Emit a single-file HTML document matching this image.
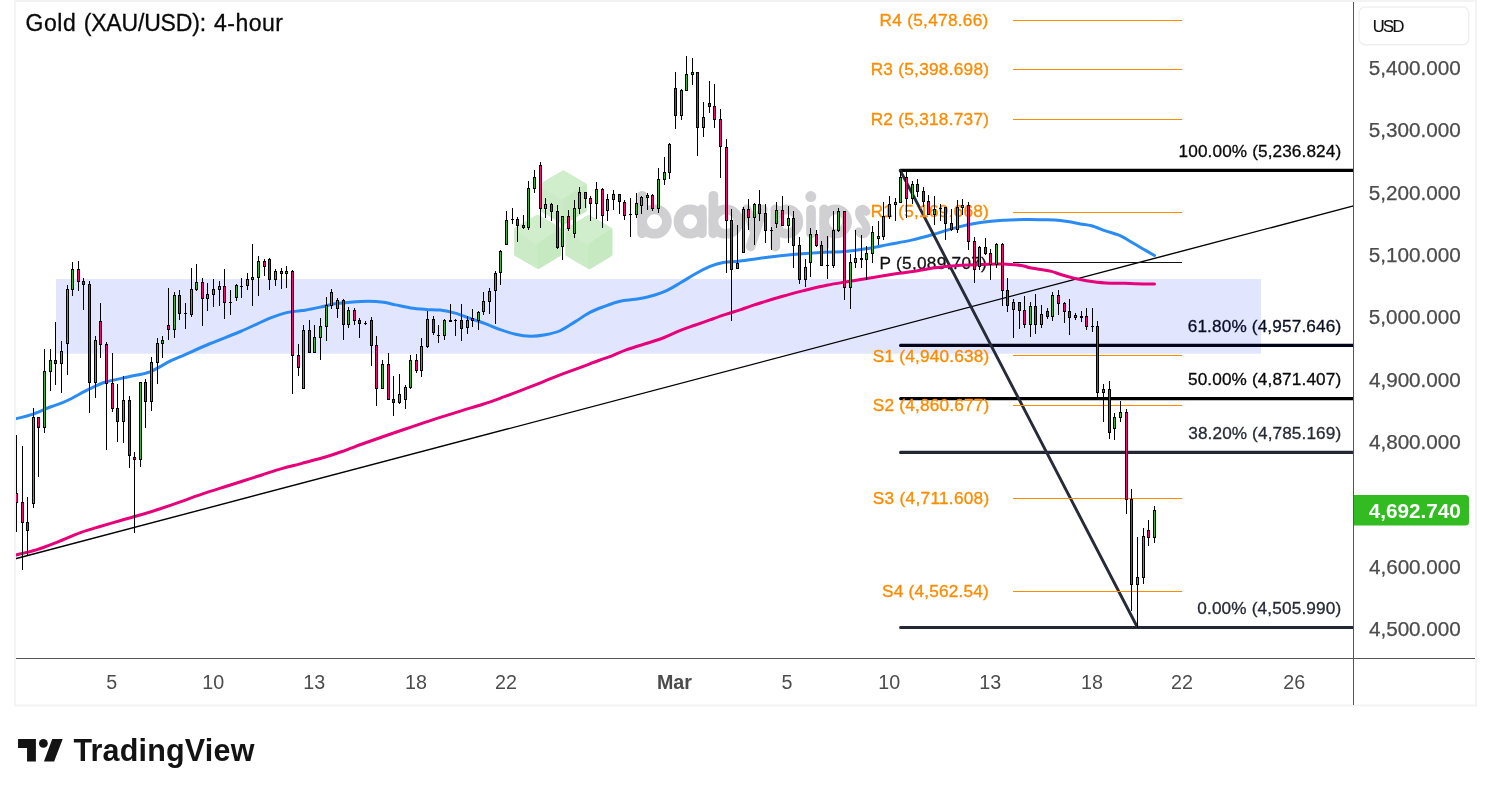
<!DOCTYPE html>
<html><head><meta charset="utf-8"><title>Gold (XAU/USD): 4-hour</title>
<style>
html,body{margin:0;padding:0;background:#fff;}
body{width:1491px;height:796px;overflow:hidden;position:relative;font-family:"Liberation Sans",sans-serif;}
</style></head><body>
<svg width="1491" height="796" viewBox="0 0 1491 796" style="position:absolute;left:0;top:0;will-change:transform">
<rect x="0" y="0" width="1491" height="796" fill="#ffffff"/>
<rect x="56" y="279" width="1205" height="74.7" fill="#e1e6fe"/>
<polygon points="563.3,172.1 585.2,184.8 585.2,210.1 563.3,222.7 541.4,210.1 541.4,184.8" fill="#cbebc6" stroke="#cbebc6" stroke-width="3.2" stroke-linejoin="round"/>
<polygon points="563.3,172.1 585.2,184.8 563.3,198.9 541.4,184.8" fill="#d1eecc" stroke="#d1eecc" stroke-width="3.2" stroke-linejoin="round"/>
<polygon points="564.5,200.0 585.2,186.3 585.2,210.1 564.5,222.7" fill="#c7e9c2" stroke="#c7e9c2" stroke-width="3.2" stroke-linejoin="round"/>
<polygon points="537.6,216.5 559.5,229.2 559.5,254.5 537.6,267.1 515.7,254.5 515.7,229.2" fill="#cbebc6" stroke="#cbebc6" stroke-width="3.2" stroke-linejoin="round"/>
<polygon points="537.6,216.5 559.5,229.2 537.6,243.3 515.7,229.2" fill="#d1eecc" stroke="#d1eecc" stroke-width="3.2" stroke-linejoin="round"/>
<polygon points="538.8,244.4 559.5,230.8 559.5,254.5 538.8,267.1" fill="#c7e9c2" stroke="#c7e9c2" stroke-width="3.2" stroke-linejoin="round"/>
<polygon points="588.8,216.7 610.7,229.3 610.7,254.7 588.8,267.3 566.9,254.7 566.9,229.3" fill="#cbebc6" stroke="#cbebc6" stroke-width="3.2" stroke-linejoin="round"/>
<polygon points="588.8,216.7 610.7,229.3 588.8,243.5 566.9,229.3" fill="#d1eecc" stroke="#d1eecc" stroke-width="3.2" stroke-linejoin="round"/>
<polygon points="590.0,244.6 610.7,230.9 610.7,254.7 590.0,267.3" fill="#c7e9c2" stroke="#c7e9c2" stroke-width="3.2" stroke-linejoin="round"/>
<g fill="none" stroke="#d0d0d2" stroke-width="9.7" stroke-linecap="round" stroke-linejoin="round">
<line x1="642.15" y1="195.8" x2="642.15" y2="233.4"/>
<ellipse cx="654.55" cy="221.55" rx="12.40" ry="12.2"/>
<ellipse cx="690.15" cy="221.55" rx="11.70" ry="12.2"/>
<line x1="701.85" y1="209.4" x2="701.85" y2="233.4"/>
<line x1="713.35" y1="195.8" x2="713.35" y2="233.4"/>
<ellipse cx="725.90" cy="221.55" rx="12.55" ry="12.2"/>
<path d="M746.6,209.4 L755.0,232.5 M762.8,209.4 L750.6,246.4"/>
<line x1="775.35" y1="209.4" x2="775.35" y2="246.6"/>
<ellipse cx="786.85" cy="221.55" rx="11.50" ry="12.2"/>
<line x1="811" y1="209.9" x2="811" y2="233.4"/>
<line x1="824.15" y1="209.4" x2="824.15" y2="246.6"/>
<ellipse cx="835.60" cy="221.55" rx="11.45" ry="12.2"/>
</g>
<circle cx="810.8" cy="196.6" r="5.5" fill="#d0d0d2"/>
<path d="M866.2,211.6 C863.5,207.4 858.6,208.4 859.2,213.8 C859.9,220 866.6,221.8 866.4,228.8 C866.2,235.4 860.6,235.6 858.9,231.4" fill="none" stroke="#d0d0d2" stroke-width="8.2" stroke-linecap="round"/>
<path d="M14.5,419.1 C17.6,418.3 27.2,416.1 33.2,414.1 C39.2,412.1 44.8,409.2 50.3,407.0 C55.8,404.8 59.9,404.0 66.4,401.0 C72.9,398.0 82.8,392.1 89.5,388.9 C96.2,385.7 100.0,383.8 106.6,381.8 C113.1,379.8 121.6,378.5 128.8,376.8 C136.0,375.1 142.9,374.5 149.9,371.8 C156.9,369.1 165.2,363.5 171.0,360.7 C176.8,357.9 178.1,357.7 184.7,354.8 C191.2,351.9 201.0,347.4 210.3,343.5 C219.6,339.6 230.4,335.8 240.5,331.5 C250.6,327.2 262.9,321.0 270.6,317.9 C278.3,314.8 281.6,313.8 286.5,312.6 C291.4,311.4 296.9,311.2 300.0,310.8 C303.1,310.4 301.7,310.8 305.1,310.2 C308.5,309.6 315.2,308.2 320.2,307.1 C325.2,306.0 330.2,304.6 335.2,303.8 C340.2,303.0 344.8,302.6 350.3,302.2 C355.8,301.8 362.9,301.3 368.4,301.3 C373.9,301.3 379.0,301.7 383.5,302.3 C388.0,302.9 391.0,304.0 395.5,304.9 C400.0,305.8 405.6,307.1 410.6,307.9 C415.6,308.6 420.8,309.0 425.7,309.4 C430.6,309.8 435.1,309.5 440.0,310.1 C444.9,310.7 450.1,311.7 455.1,313.1 C460.1,314.5 465.2,316.6 470.2,318.4 C475.2,320.2 480.2,321.8 485.2,323.7 C490.2,325.6 495.3,327.9 500.3,329.7 C505.3,331.4 510.4,333.1 515.4,334.2 C520.4,335.3 525.5,336.1 530.5,336.2 C535.5,336.3 540.5,335.6 545.5,334.7 C550.5,333.8 555.6,332.7 560.6,330.5 C565.6,328.3 570.8,324.4 575.7,321.4 C580.6,318.4 585.1,314.9 590.0,312.4 C594.9,309.8 600.1,308.0 605.1,306.1 C610.1,304.2 615.2,302.3 620.2,301.2 C625.2,300.1 630.2,300.1 635.2,299.3 C640.2,298.5 645.3,297.7 650.3,296.3 C655.3,294.9 660.4,293.4 665.4,291.1 C670.4,288.9 675.5,285.7 680.5,282.8 C685.5,279.9 690.5,276.5 695.5,273.7 C700.5,270.9 706.3,268.0 710.6,266.2 C714.9,264.4 716.3,263.8 721.2,262.9 C726.1,262.0 732.6,261.9 740.0,261.0 C747.4,260.1 757.0,258.5 765.4,257.5 C773.8,256.5 781.1,255.6 790.2,254.8 C799.4,254.0 811.3,253.2 820.3,252.6 C829.3,252.0 836.9,252.1 844.4,251.5 C851.9,250.9 858.2,250.0 865.5,248.8 C872.8,247.7 880.2,246.1 888.1,244.6 C896.0,243.1 904.8,241.7 912.6,239.9 C920.5,238.1 927.7,236.0 935.2,233.9 C942.7,231.8 950.2,229.0 957.8,227.1 C965.3,225.2 973.0,223.7 980.5,222.6 C988.0,221.5 995.6,220.8 1003.1,220.3 C1010.6,219.8 1019.1,219.7 1025.7,219.6 C1032.3,219.5 1037.7,219.7 1042.6,219.8 C1047.5,219.9 1050.9,219.8 1055.1,220.1 C1059.3,220.4 1063.5,221.0 1067.7,221.6 C1071.9,222.2 1076.3,223.2 1080.3,223.9 C1084.3,224.6 1087.4,224.7 1091.6,225.8 C1095.8,227.0 1100.6,229.1 1105.4,230.8 C1110.2,232.5 1116.3,234.0 1120.5,235.8 C1124.7,237.6 1126.7,239.3 1130.5,241.5 C1134.3,243.7 1139.1,246.7 1143.1,249.0 C1147.1,251.3 1152.6,254.4 1154.5,255.5" fill="none" stroke="#2a8cf2" stroke-width="3" stroke-linecap="round" stroke-linejoin="round"/>
<line x1="14.5" y1="559" x2="1353.5" y2="205.9" stroke="#000" stroke-width="1.4"/>
<line x1="900.6" y1="170.4" x2="1353" y2="170.4" stroke="#000000" stroke-width="3.1"/><circle cx="900.6" cy="170.4" r="1.55" fill="#000000"/>
<line x1="900.6" y1="345.4" x2="1353" y2="345.4" stroke="#03061a" stroke-width="3.1"/><circle cx="900.6" cy="345.4" r="1.55" fill="#03061a"/>
<line x1="900.6" y1="398.6" x2="1353" y2="398.6" stroke="#000000" stroke-width="3.1"/><circle cx="900.6" cy="398.6" r="1.55" fill="#000000"/>
<line x1="900.6" y1="452.4" x2="1353" y2="452.4" stroke="#232733" stroke-width="3.1"/><circle cx="900.6" cy="452.4" r="1.55" fill="#232733"/>
<line x1="900.6" y1="627.5" x2="1353" y2="627.5" stroke="#232733" stroke-width="3.1"/><circle cx="900.6" cy="627.5" r="1.55" fill="#232733"/>
<line x1="900.2" y1="170.4" x2="1137.5" y2="627.5" stroke="#272b37" stroke-width="2.9" stroke-linecap="round"/>
<text x="1178.62" y="157.0" font-family="Liberation Sans, sans-serif" font-size="17.2" letter-spacing="0.112" fill="#080808" stroke="#080808" stroke-width="0.3">100.00% (5,236.824)</text>
<text x="1187.69" y="332.0" font-family="Liberation Sans, sans-serif" font-size="17.2" letter-spacing="0.148" fill="#0a0f24" stroke="#0a0f24" stroke-width="0.3">61.80% (4,957.646)</text>
<text x="1187.96" y="385.2" font-family="Liberation Sans, sans-serif" font-size="17.2" letter-spacing="0.132" fill="#080808" stroke="#080808" stroke-width="0.3">50.00% (4,871.407)</text>
<text x="1188.26" y="439.0" font-family="Liberation Sans, sans-serif" font-size="17.2" letter-spacing="0.114" fill="#262a36" stroke="#262a36" stroke-width="0.3">38.20% (4,785.169)</text>
<text x="1197.26" y="614.1" font-family="Liberation Sans, sans-serif" font-size="17.2" letter-spacing="0.157" fill="#262a36" stroke="#262a36" stroke-width="0.3">0.00% (4,505.990)</text>
<rect x="1013" y="20" width="169" height="1" fill="#fb8c00"/>
<text x="879.56" y="25.6" font-family="Liberation Sans, sans-serif" font-size="17.2" letter-spacing="0.305" fill="#fb8c00" stroke="#fb8c00" stroke-width="0.35">R4 (5,478.66)</text>
<rect x="1013" y="69" width="169" height="1" fill="#fb8c00"/>
<text x="870.66" y="74.7" font-family="Liberation Sans, sans-serif" font-size="17.2" letter-spacing="0.284" fill="#fb8c00" stroke="#fb8c00" stroke-width="0.35">R3 (5,398.698)</text>
<rect x="1013" y="119" width="169" height="1" fill="#fb8c00"/>
<text x="870.66" y="124.6" font-family="Liberation Sans, sans-serif" font-size="17.2" letter-spacing="0.284" fill="#fb8c00" stroke="#fb8c00" stroke-width="0.35">R2 (5,318.737)</text>
<rect x="1013" y="212" width="169" height="1" fill="#fb8c00"/>
<text x="870.66" y="217.2" font-family="Liberation Sans, sans-serif" font-size="17.2" letter-spacing="0.269" fill="#fb8c00" stroke="#fb8c00" stroke-width="0.35">R1 (5,169.668)</text>
<rect x="1013" y="355" width="169" height="1" fill="#fb8c00"/>
<text x="872.86" y="361.7" font-family="Liberation Sans, sans-serif" font-size="17.2" letter-spacing="0.203" fill="#fb8c00" stroke="#fb8c00" stroke-width="0.35">S1 (4,940.638)</text>
<rect x="1013" y="405" width="169" height="1" fill="#fb8c00"/>
<text x="872.86" y="410.5" font-family="Liberation Sans, sans-serif" font-size="17.2" letter-spacing="0.203" fill="#fb8c00" stroke="#fb8c00" stroke-width="0.35">S2 (4,860.677)</text>
<rect x="1013" y="498" width="169" height="1" fill="#fb8c00"/>
<text x="872.86" y="503.5" font-family="Liberation Sans, sans-serif" font-size="17.2" letter-spacing="0.301" fill="#fb8c00" stroke="#fb8c00" stroke-width="0.35">S3 (4,711.608)</text>
<rect x="1013" y="591" width="169" height="1" fill="#fb8c00"/>
<text x="882.06" y="596.7" font-family="Liberation Sans, sans-serif" font-size="17.2" letter-spacing="0.217" fill="#fb8c00" stroke="#fb8c00" stroke-width="0.35">S4 (4,562.54)</text>
<rect x="1013" y="262" width="169" height="1" fill="#111"/>
<text x="879.56" y="268.8" font-family="Liberation Sans, sans-serif" font-size="17.2" letter-spacing="0.284" fill="#111" stroke="#111" stroke-width="0.3">P (5,089.707)</text>
<path d="M14.5,555.3 C18.1,554.4 29.0,552.1 36.2,549.9 C43.5,547.6 50.6,544.7 58.0,541.8 C65.4,538.9 73.5,535.1 80.5,532.6 C87.5,530.1 93.3,528.5 100.0,526.5 C106.7,524.5 113.9,522.5 120.7,520.5 C127.5,518.5 134.3,516.8 141.0,514.8 C147.7,512.8 154.3,510.7 161.0,508.5 C167.7,506.3 174.3,504.0 181.0,501.6 C187.7,499.2 194.5,496.7 201.2,494.4 C207.9,492.1 214.3,490.1 221.0,488.0 C227.7,485.9 234.7,483.6 241.4,481.5 C248.1,479.4 254.3,477.3 261.0,475.2 C267.7,473.1 275.0,470.5 281.7,468.6 C288.4,466.7 294.3,465.4 301.0,463.6 C307.7,461.8 315.1,460.0 321.9,458.0 C328.7,456.0 335.3,453.8 342.0,451.5 C348.7,449.2 355.5,446.4 362.2,444.0 C368.9,441.6 375.3,439.3 382.0,437.0 C388.7,434.7 395.7,432.3 402.4,430.0 C409.1,427.7 415.3,425.6 422.0,423.4 C428.7,421.2 436.0,418.7 442.7,416.6 C449.4,414.5 455.3,412.7 462.0,410.6 C468.7,408.5 476.1,406.4 482.9,404.2 C489.7,402.0 496.3,399.6 503.0,397.2 C509.7,394.8 516.4,392.2 523.1,389.6 C529.8,387.0 536.3,384.5 543.0,381.8 C549.7,379.1 556.9,376.1 563.4,373.6 C569.9,371.1 575.9,369.1 582.0,366.8 C588.1,364.5 595.0,361.8 600.0,360.0 C605.0,358.2 607.6,357.5 612.0,355.8 C616.4,354.1 619.8,352.1 626.2,349.9 C632.6,347.6 643.8,344.4 650.3,342.3 C656.8,340.2 660.4,339.0 665.4,337.0 C670.4,335.0 675.5,332.3 680.5,330.3 C685.5,328.3 690.5,326.8 695.5,325.0 C700.5,323.2 705.6,321.5 710.6,319.7 C715.6,317.9 720.8,316.0 725.7,314.4 C730.6,312.8 735.5,311.4 740.0,309.9 C744.5,308.4 745.7,307.7 752.8,305.4 C759.9,303.1 773.9,298.8 782.6,296.3 C791.3,293.8 797.7,292.2 805.2,290.3 C812.7,288.4 820.2,286.5 827.8,285.0 C835.3,283.5 843.0,282.5 850.5,281.2 C858.0,279.9 865.6,278.6 873.1,277.4 C880.6,276.1 889.1,274.7 895.7,273.7 C902.3,272.7 906.0,272.6 912.6,271.6 C919.2,270.6 927.7,268.8 935.2,267.8 C942.7,266.8 950.2,266.1 957.8,265.5 C965.3,264.9 973.0,264.8 980.5,264.5 C988.0,264.2 996.3,263.8 1003.1,264.0 C1009.9,264.2 1016.7,264.9 1021.2,265.5 C1025.7,266.1 1026.4,267.1 1030.0,267.8 C1033.6,268.5 1039.0,269.1 1042.6,269.7 C1046.2,270.3 1048.3,270.6 1051.4,271.4 C1054.5,272.2 1057.6,273.6 1061.4,274.7 C1065.2,275.8 1069.8,277.1 1074.0,278.1 C1078.2,279.1 1081.3,279.9 1086.5,280.7 C1091.7,281.5 1099.1,282.5 1105.4,282.9 C1111.7,283.3 1117.9,283.1 1124.2,283.3 C1130.5,283.5 1138.0,283.8 1143.1,283.9 C1148.1,284.0 1152.6,283.9 1154.5,283.9" fill="none" stroke="#e6007a" stroke-width="3" stroke-linecap="round" stroke-linejoin="round"/>
<g shape-rendering="crispEdges">
<rect x="16" y="435" width="1" height="97" fill="#000"/>
<rect x="15" y="493" width="3" height="10" fill="#000"/>
<rect x="16" y="494" width="1" height="8" fill="#ff0080"/>
<rect x="22" y="446" width="1" height="124" fill="#000"/>
<rect x="21" y="502" width="3" height="21" fill="#000"/>
<rect x="22" y="503" width="1" height="19" fill="#ff0080"/>
<rect x="27" y="497" width="1" height="58" fill="#000"/>
<rect x="26" y="522" width="3" height="9" fill="#000"/>
<rect x="27" y="523" width="1" height="7" fill="#ff0080"/>
<rect x="33" y="408" width="1" height="100" fill="#000"/>
<rect x="32" y="417" width="3" height="87" fill="#000"/>
<rect x="33" y="418" width="1" height="85" fill="#33bb22"/>
<rect x="38" y="417" width="1" height="60" fill="#000"/>
<rect x="37" y="417" width="3" height="11" fill="#000"/>
<rect x="38" y="418" width="1" height="9" fill="#ff0080"/>
<rect x="44" y="349" width="1" height="84" fill="#000"/>
<rect x="43" y="371" width="3" height="57" fill="#000"/>
<rect x="44" y="372" width="1" height="55" fill="#33bb22"/>
<rect x="50" y="349" width="1" height="42" fill="#000"/>
<rect x="49" y="360" width="3" height="12" fill="#000"/>
<rect x="50" y="361" width="1" height="10" fill="#33bb22"/>
<rect x="55" y="322" width="1" height="63" fill="#000"/>
<rect x="54" y="360" width="3" height="4" fill="#000"/>
<rect x="55" y="361" width="1" height="2" fill="#ff0080"/>
<rect x="61" y="341" width="1" height="52" fill="#000"/>
<rect x="60" y="351" width="3" height="13" fill="#000"/>
<rect x="61" y="352" width="1" height="11" fill="#33bb22"/>
<rect x="67" y="285" width="1" height="90" fill="#000"/>
<rect x="66" y="289" width="3" height="55" fill="#000"/>
<rect x="67" y="290" width="1" height="53" fill="#33bb22"/>
<rect x="72" y="262" width="1" height="34" fill="#000"/>
<rect x="71" y="269" width="3" height="21" fill="#000"/>
<rect x="72" y="270" width="1" height="19" fill="#33bb22"/>
<rect x="78" y="261" width="1" height="30" fill="#000"/>
<rect x="77" y="269" width="3" height="13" fill="#000"/>
<rect x="78" y="270" width="1" height="11" fill="#ff0080"/>
<rect x="83" y="278" width="1" height="32" fill="#000"/>
<rect x="82" y="281" width="3" height="4" fill="#000"/>
<rect x="83" y="282" width="1" height="2" fill="#ff0080"/>
<rect x="89" y="281" width="1" height="132" fill="#000"/>
<rect x="88" y="284" width="3" height="99" fill="#000"/>
<rect x="89" y="285" width="1" height="97" fill="#ff0080"/>
<rect x="95" y="336" width="1" height="62" fill="#000"/>
<rect x="94" y="340" width="3" height="43" fill="#000"/>
<rect x="95" y="341" width="1" height="41" fill="#33bb22"/>
<rect x="100" y="303" width="1" height="55" fill="#000"/>
<rect x="99" y="321" width="3" height="24" fill="#000"/>
<rect x="100" y="322" width="1" height="22" fill="#ff0080"/>
<rect x="106" y="342" width="1" height="108" fill="#000"/>
<rect x="105" y="344" width="3" height="40" fill="#000"/>
<rect x="106" y="345" width="1" height="38" fill="#ff0080"/>
<rect x="112" y="353" width="1" height="59" fill="#000"/>
<rect x="111" y="383" width="3" height="26" fill="#000"/>
<rect x="112" y="384" width="1" height="24" fill="#ff0080"/>
<rect x="117" y="384" width="1" height="58" fill="#000"/>
<rect x="116" y="408" width="3" height="14" fill="#000"/>
<rect x="117" y="409" width="1" height="12" fill="#ff0080"/>
<rect x="123" y="376" width="1" height="67" fill="#000"/>
<rect x="122" y="400" width="3" height="22" fill="#000"/>
<rect x="123" y="401" width="1" height="20" fill="#33bb22"/>
<rect x="129" y="396" width="1" height="72" fill="#000"/>
<rect x="128" y="400" width="3" height="56" fill="#000"/>
<rect x="129" y="401" width="1" height="54" fill="#ff0080"/>
<rect x="134" y="452" width="1" height="81" fill="#000"/>
<rect x="133" y="457" width="3" height="3" fill="#000"/>
<rect x="134" y="458" width="1" height="1" fill="#ff0080"/>
<rect x="140" y="382" width="1" height="85" fill="#000"/>
<rect x="139" y="382" width="3" height="78" fill="#000"/>
<rect x="140" y="383" width="1" height="76" fill="#33bb22"/>
<rect x="145" y="379" width="1" height="49" fill="#000"/>
<rect x="144" y="382" width="3" height="20" fill="#000"/>
<rect x="145" y="383" width="1" height="18" fill="#ff0080"/>
<rect x="151" y="357" width="1" height="54" fill="#000"/>
<rect x="150" y="362" width="3" height="40" fill="#000"/>
<rect x="151" y="363" width="1" height="38" fill="#33bb22"/>
<rect x="157" y="338" width="1" height="46" fill="#000"/>
<rect x="156" y="343" width="3" height="20" fill="#000"/>
<rect x="157" y="344" width="1" height="18" fill="#33bb22"/>
<rect x="162" y="336" width="1" height="22" fill="#000"/>
<rect x="161" y="340" width="3" height="4" fill="#000"/>
<rect x="162" y="341" width="1" height="2" fill="#33bb22"/>
<rect x="168" y="288" width="1" height="52" fill="#000"/>
<rect x="167" y="325" width="3" height="5" fill="#000"/>
<rect x="168" y="326" width="1" height="3" fill="#ff0080"/>
<rect x="174" y="292" width="1" height="46" fill="#000"/>
<rect x="173" y="295" width="3" height="35" fill="#000"/>
<rect x="174" y="296" width="1" height="33" fill="#33bb22"/>
<rect x="179" y="290" width="1" height="30" fill="#000"/>
<rect x="178" y="295" width="3" height="19" fill="#000"/>
<rect x="179" y="296" width="1" height="17" fill="#ff0080"/>
<rect x="185" y="303" width="1" height="26" fill="#000"/>
<rect x="184" y="313" width="3" height="1" fill="#000"/>
<rect x="191" y="268" width="1" height="49" fill="#000"/>
<rect x="190" y="289" width="3" height="26" fill="#000"/>
<rect x="191" y="290" width="1" height="24" fill="#33bb22"/>
<rect x="196" y="264" width="1" height="27" fill="#000"/>
<rect x="195" y="282" width="3" height="8" fill="#000"/>
<rect x="196" y="283" width="1" height="6" fill="#33bb22"/>
<rect x="202" y="278" width="1" height="48" fill="#000"/>
<rect x="201" y="282" width="3" height="17" fill="#000"/>
<rect x="202" y="283" width="1" height="15" fill="#ff0080"/>
<rect x="207" y="283" width="1" height="28" fill="#000"/>
<rect x="206" y="294" width="3" height="5" fill="#000"/>
<rect x="207" y="295" width="1" height="3" fill="#33bb22"/>
<rect x="213" y="279" width="1" height="28" fill="#000"/>
<rect x="212" y="289" width="3" height="6" fill="#000"/>
<rect x="213" y="290" width="1" height="4" fill="#33bb22"/>
<rect x="219" y="281" width="1" height="25" fill="#000"/>
<rect x="218" y="286" width="3" height="4" fill="#000"/>
<rect x="219" y="287" width="1" height="2" fill="#33bb22"/>
<rect x="224" y="269" width="1" height="50" fill="#000"/>
<rect x="223" y="286" width="3" height="17" fill="#000"/>
<rect x="224" y="287" width="1" height="15" fill="#ff0080"/>
<rect x="230" y="290" width="1" height="25" fill="#000"/>
<rect x="229" y="302" width="3" height="1" fill="#000"/>
<rect x="236" y="284" width="1" height="17" fill="#000"/>
<rect x="235" y="285" width="3" height="13" fill="#000"/>
<rect x="236" y="286" width="1" height="11" fill="#33bb22"/>
<rect x="241" y="278" width="1" height="20" fill="#000"/>
<rect x="240" y="286" width="3" height="1" fill="#000"/>
<rect x="247" y="273" width="1" height="17" fill="#000"/>
<rect x="246" y="279" width="3" height="7" fill="#000"/>
<rect x="247" y="280" width="1" height="5" fill="#33bb22"/>
<rect x="252" y="244" width="1" height="62" fill="#000"/>
<rect x="251" y="277" width="3" height="3" fill="#000"/>
<rect x="252" y="278" width="1" height="1" fill="#33bb22"/>
<rect x="258" y="256" width="1" height="40" fill="#000"/>
<rect x="257" y="261" width="3" height="17" fill="#000"/>
<rect x="258" y="262" width="1" height="15" fill="#33bb22"/>
<rect x="264" y="259" width="1" height="17" fill="#000"/>
<rect x="263" y="261" width="3" height="6" fill="#000"/>
<rect x="264" y="262" width="1" height="4" fill="#ff0080"/>
<rect x="269" y="258" width="1" height="32" fill="#000"/>
<rect x="268" y="259" width="3" height="21" fill="#000"/>
<rect x="269" y="260" width="1" height="19" fill="#ff0080"/>
<rect x="275" y="269" width="1" height="17" fill="#000"/>
<rect x="274" y="271" width="3" height="9" fill="#000"/>
<rect x="275" y="272" width="1" height="7" fill="#33bb22"/>
<rect x="281" y="268" width="1" height="21" fill="#000"/>
<rect x="280" y="271" width="3" height="3" fill="#000"/>
<rect x="281" y="272" width="1" height="1" fill="#ff0080"/>
<rect x="286" y="266" width="1" height="22" fill="#000"/>
<rect x="285" y="271" width="3" height="3" fill="#000"/>
<rect x="286" y="272" width="1" height="1" fill="#33bb22"/>
<rect x="292" y="270" width="1" height="124" fill="#000"/>
<rect x="291" y="271" width="3" height="85" fill="#000"/>
<rect x="292" y="272" width="1" height="83" fill="#ff0080"/>
<rect x="298" y="344" width="1" height="32" fill="#000"/>
<rect x="297" y="355" width="3" height="13" fill="#000"/>
<rect x="298" y="356" width="1" height="11" fill="#ff0080"/>
<rect x="303" y="325" width="1" height="64" fill="#000"/>
<rect x="302" y="330" width="3" height="59" fill="#000"/>
<rect x="303" y="331" width="1" height="57" fill="#33bb22"/>
<rect x="309" y="320" width="1" height="33" fill="#000"/>
<rect x="308" y="330" width="3" height="23" fill="#000"/>
<rect x="309" y="331" width="1" height="21" fill="#ff0080"/>
<rect x="314" y="325" width="1" height="28" fill="#000"/>
<rect x="313" y="337" width="3" height="16" fill="#000"/>
<rect x="314" y="338" width="1" height="14" fill="#33bb22"/>
<rect x="320" y="318" width="1" height="42" fill="#000"/>
<rect x="319" y="326" width="3" height="12" fill="#000"/>
<rect x="320" y="327" width="1" height="10" fill="#33bb22"/>
<rect x="326" y="297" width="1" height="44" fill="#000"/>
<rect x="325" y="305" width="3" height="22" fill="#000"/>
<rect x="326" y="306" width="1" height="20" fill="#33bb22"/>
<rect x="331" y="289" width="1" height="20" fill="#000"/>
<rect x="330" y="292" width="3" height="14" fill="#000"/>
<rect x="331" y="293" width="1" height="12" fill="#33bb22"/>
<rect x="337" y="298" width="1" height="20" fill="#000"/>
<rect x="336" y="300" width="3" height="9" fill="#000"/>
<rect x="337" y="301" width="1" height="7" fill="#33bb22"/>
<rect x="343" y="299" width="1" height="41" fill="#000"/>
<rect x="342" y="300" width="3" height="25" fill="#000"/>
<rect x="343" y="301" width="1" height="23" fill="#ff0080"/>
<rect x="348" y="307" width="1" height="21" fill="#000"/>
<rect x="347" y="310" width="3" height="15" fill="#000"/>
<rect x="348" y="311" width="1" height="13" fill="#33bb22"/>
<rect x="354" y="308" width="1" height="17" fill="#000"/>
<rect x="353" y="310" width="3" height="11" fill="#000"/>
<rect x="354" y="311" width="1" height="9" fill="#ff0080"/>
<rect x="359" y="318" width="1" height="20" fill="#000"/>
<rect x="358" y="320" width="3" height="4" fill="#000"/>
<rect x="359" y="321" width="1" height="2" fill="#ff0080"/>
<rect x="365" y="321" width="1" height="4" fill="#000"/>
<rect x="364" y="323" width="3" height="1" fill="#000"/>
<rect x="371" y="317" width="1" height="49" fill="#000"/>
<rect x="370" y="320" width="3" height="26" fill="#000"/>
<rect x="371" y="321" width="1" height="24" fill="#ff0080"/>
<rect x="376" y="336" width="1" height="70" fill="#000"/>
<rect x="375" y="345" width="3" height="44" fill="#000"/>
<rect x="376" y="346" width="1" height="42" fill="#ff0080"/>
<rect x="382" y="360" width="1" height="29" fill="#000"/>
<rect x="381" y="364" width="3" height="25" fill="#000"/>
<rect x="382" y="365" width="1" height="23" fill="#33bb22"/>
<rect x="388" y="353" width="1" height="47" fill="#000"/>
<rect x="387" y="364" width="3" height="36" fill="#000"/>
<rect x="388" y="365" width="1" height="34" fill="#ff0080"/>
<rect x="393" y="376" width="1" height="40" fill="#000"/>
<rect x="392" y="399" width="3" height="4" fill="#000"/>
<rect x="393" y="400" width="1" height="2" fill="#ff0080"/>
<rect x="399" y="374" width="1" height="30" fill="#000"/>
<rect x="398" y="394" width="3" height="9" fill="#000"/>
<rect x="399" y="395" width="1" height="7" fill="#33bb22"/>
<rect x="405" y="385" width="1" height="24" fill="#000"/>
<rect x="404" y="387" width="3" height="13" fill="#000"/>
<rect x="405" y="388" width="1" height="11" fill="#33bb22"/>
<rect x="410" y="355" width="1" height="34" fill="#000"/>
<rect x="409" y="360" width="3" height="28" fill="#000"/>
<rect x="410" y="361" width="1" height="26" fill="#33bb22"/>
<rect x="416" y="354" width="1" height="19" fill="#000"/>
<rect x="415" y="360" width="3" height="11" fill="#000"/>
<rect x="416" y="361" width="1" height="9" fill="#ff0080"/>
<rect x="421" y="338" width="1" height="39" fill="#000"/>
<rect x="420" y="346" width="3" height="25" fill="#000"/>
<rect x="421" y="347" width="1" height="23" fill="#33bb22"/>
<rect x="427" y="311" width="1" height="37" fill="#000"/>
<rect x="426" y="319" width="3" height="28" fill="#000"/>
<rect x="427" y="320" width="1" height="26" fill="#33bb22"/>
<rect x="433" y="316" width="1" height="19" fill="#000"/>
<rect x="432" y="319" width="3" height="14" fill="#000"/>
<rect x="433" y="320" width="1" height="12" fill="#ff0080"/>
<rect x="438" y="325" width="1" height="18" fill="#000"/>
<rect x="437" y="335" width="3" height="1" fill="#000"/>
<rect x="444" y="319" width="1" height="21" fill="#000"/>
<rect x="443" y="320" width="3" height="16" fill="#000"/>
<rect x="444" y="321" width="1" height="14" fill="#33bb22"/>
<rect x="450" y="304" width="1" height="18" fill="#000"/>
<rect x="449" y="320" width="3" height="2" fill="#000"/>
<rect x="455" y="319" width="1" height="17" fill="#000"/>
<rect x="454" y="320" width="3" height="1" fill="#000"/>
<rect x="461" y="304" width="1" height="37" fill="#000"/>
<rect x="460" y="320" width="3" height="9" fill="#000"/>
<rect x="461" y="321" width="1" height="7" fill="#ff0080"/>
<rect x="467" y="316" width="1" height="18" fill="#000"/>
<rect x="466" y="320" width="3" height="8" fill="#000"/>
<rect x="467" y="321" width="1" height="6" fill="#33bb22"/>
<rect x="472" y="309" width="1" height="18" fill="#000"/>
<rect x="471" y="318" width="3" height="3" fill="#000"/>
<rect x="472" y="319" width="1" height="1" fill="#ff0080"/>
<rect x="478" y="311" width="1" height="19" fill="#000"/>
<rect x="477" y="312" width="3" height="9" fill="#000"/>
<rect x="478" y="313" width="1" height="7" fill="#33bb22"/>
<rect x="483" y="292" width="1" height="23" fill="#000"/>
<rect x="482" y="301" width="3" height="11" fill="#000"/>
<rect x="483" y="302" width="1" height="9" fill="#33bb22"/>
<rect x="489" y="288" width="1" height="26" fill="#000"/>
<rect x="488" y="291" width="3" height="11" fill="#000"/>
<rect x="489" y="292" width="1" height="9" fill="#33bb22"/>
<rect x="495" y="271" width="1" height="53" fill="#000"/>
<rect x="494" y="273" width="3" height="18" fill="#000"/>
<rect x="495" y="274" width="1" height="16" fill="#33bb22"/>
<rect x="500" y="250" width="1" height="35" fill="#000"/>
<rect x="499" y="251" width="3" height="22" fill="#000"/>
<rect x="500" y="252" width="1" height="20" fill="#33bb22"/>
<rect x="506" y="211" width="1" height="34" fill="#000"/>
<rect x="505" y="220" width="3" height="25" fill="#000"/>
<rect x="506" y="221" width="1" height="23" fill="#33bb22"/>
<rect x="512" y="208" width="1" height="16" fill="#000"/>
<rect x="511" y="219" width="3" height="1" fill="#000"/>
<rect x="517" y="217" width="1" height="25" fill="#000"/>
<rect x="516" y="219" width="3" height="7" fill="#000"/>
<rect x="517" y="220" width="1" height="5" fill="#ff0080"/>
<rect x="523" y="215" width="1" height="14" fill="#000"/>
<rect x="522" y="225" width="3" height="3" fill="#000"/>
<rect x="523" y="226" width="1" height="1" fill="#ff0080"/>
<rect x="528" y="181" width="1" height="49" fill="#000"/>
<rect x="527" y="188" width="3" height="40" fill="#000"/>
<rect x="528" y="189" width="1" height="38" fill="#33bb22"/>
<rect x="534" y="170" width="1" height="23" fill="#000"/>
<rect x="533" y="177" width="3" height="12" fill="#000"/>
<rect x="534" y="178" width="1" height="10" fill="#33bb22"/>
<rect x="540" y="162" width="1" height="66" fill="#000"/>
<rect x="539" y="165" width="3" height="44" fill="#000"/>
<rect x="540" y="166" width="1" height="42" fill="#ff0080"/>
<rect x="545" y="198" width="1" height="20" fill="#000"/>
<rect x="544" y="204" width="3" height="5" fill="#000"/>
<rect x="545" y="205" width="1" height="3" fill="#33bb22"/>
<rect x="551" y="203" width="1" height="18" fill="#000"/>
<rect x="550" y="204" width="3" height="8" fill="#000"/>
<rect x="551" y="205" width="1" height="6" fill="#ff0080"/>
<rect x="557" y="205" width="1" height="44" fill="#000"/>
<rect x="556" y="211" width="3" height="37" fill="#000"/>
<rect x="557" y="212" width="1" height="35" fill="#ff0080"/>
<rect x="562" y="216" width="1" height="44" fill="#000"/>
<rect x="561" y="216" width="3" height="31" fill="#000"/>
<rect x="562" y="217" width="1" height="29" fill="#33bb22"/>
<rect x="568" y="210" width="1" height="21" fill="#000"/>
<rect x="567" y="216" width="3" height="13" fill="#000"/>
<rect x="568" y="217" width="1" height="11" fill="#ff0080"/>
<rect x="574" y="200" width="1" height="38" fill="#000"/>
<rect x="573" y="208" width="3" height="26" fill="#000"/>
<rect x="574" y="209" width="1" height="24" fill="#33bb22"/>
<rect x="579" y="187" width="1" height="27" fill="#000"/>
<rect x="578" y="192" width="3" height="17" fill="#000"/>
<rect x="579" y="193" width="1" height="15" fill="#33bb22"/>
<rect x="585" y="192" width="1" height="16" fill="#000"/>
<rect x="584" y="192" width="3" height="7" fill="#000"/>
<rect x="585" y="193" width="1" height="5" fill="#ff0080"/>
<rect x="590" y="196" width="1" height="25" fill="#000"/>
<rect x="589" y="198" width="3" height="6" fill="#000"/>
<rect x="590" y="199" width="1" height="4" fill="#ff0080"/>
<rect x="596" y="182" width="1" height="37" fill="#000"/>
<rect x="595" y="189" width="3" height="15" fill="#000"/>
<rect x="596" y="190" width="1" height="13" fill="#33bb22"/>
<rect x="602" y="188" width="1" height="40" fill="#000"/>
<rect x="601" y="189" width="3" height="27" fill="#000"/>
<rect x="602" y="190" width="1" height="25" fill="#ff0080"/>
<rect x="607" y="194" width="1" height="27" fill="#000"/>
<rect x="606" y="199" width="3" height="12" fill="#000"/>
<rect x="607" y="200" width="1" height="10" fill="#33bb22"/>
<rect x="613" y="190" width="1" height="20" fill="#000"/>
<rect x="612" y="194" width="3" height="6" fill="#000"/>
<rect x="613" y="195" width="1" height="4" fill="#33bb22"/>
<rect x="619" y="194" width="1" height="20" fill="#000"/>
<rect x="618" y="194" width="3" height="8" fill="#000"/>
<rect x="619" y="195" width="1" height="6" fill="#ff0080"/>
<rect x="624" y="200" width="1" height="20" fill="#000"/>
<rect x="623" y="202" width="3" height="14" fill="#000"/>
<rect x="624" y="203" width="1" height="12" fill="#ff0080"/>
<rect x="630" y="198" width="1" height="39" fill="#000"/>
<rect x="629" y="214" width="3" height="1" fill="#000"/>
<rect x="636" y="193" width="1" height="25" fill="#000"/>
<rect x="635" y="203" width="3" height="12" fill="#000"/>
<rect x="636" y="204" width="1" height="10" fill="#33bb22"/>
<rect x="641" y="196" width="1" height="18" fill="#000"/>
<rect x="640" y="197" width="3" height="9" fill="#000"/>
<rect x="641" y="198" width="1" height="7" fill="#33bb22"/>
<rect x="647" y="193" width="1" height="17" fill="#000"/>
<rect x="646" y="195" width="3" height="3" fill="#000"/>
<rect x="647" y="196" width="1" height="1" fill="#33bb22"/>
<rect x="652" y="194" width="1" height="17" fill="#000"/>
<rect x="651" y="195" width="3" height="14" fill="#000"/>
<rect x="652" y="196" width="1" height="12" fill="#ff0080"/>
<rect x="658" y="168" width="1" height="45" fill="#000"/>
<rect x="657" y="179" width="3" height="30" fill="#000"/>
<rect x="658" y="180" width="1" height="28" fill="#33bb22"/>
<rect x="664" y="157" width="1" height="28" fill="#000"/>
<rect x="663" y="172" width="3" height="8" fill="#000"/>
<rect x="664" y="173" width="1" height="6" fill="#33bb22"/>
<rect x="669" y="143" width="1" height="36" fill="#000"/>
<rect x="668" y="144" width="3" height="29" fill="#000"/>
<rect x="669" y="145" width="1" height="27" fill="#33bb22"/>
<rect x="675" y="72" width="1" height="57" fill="#000"/>
<rect x="674" y="88" width="3" height="28" fill="#000"/>
<rect x="675" y="89" width="1" height="26" fill="#ff0080"/>
<rect x="681" y="89" width="1" height="31" fill="#000"/>
<rect x="680" y="90" width="3" height="26" fill="#000"/>
<rect x="681" y="91" width="1" height="24" fill="#33bb22"/>
<rect x="686" y="56" width="1" height="35" fill="#000"/>
<rect x="685" y="74" width="3" height="17" fill="#000"/>
<rect x="686" y="75" width="1" height="15" fill="#33bb22"/>
<rect x="692" y="58" width="1" height="27" fill="#000"/>
<rect x="691" y="72" width="3" height="3" fill="#000"/>
<rect x="692" y="73" width="1" height="1" fill="#33bb22"/>
<rect x="697" y="72" width="1" height="84" fill="#000"/>
<rect x="696" y="72" width="3" height="56" fill="#000"/>
<rect x="697" y="73" width="1" height="54" fill="#ff0080"/>
<rect x="703" y="102" width="1" height="35" fill="#000"/>
<rect x="702" y="117" width="3" height="11" fill="#000"/>
<rect x="703" y="118" width="1" height="9" fill="#33bb22"/>
<rect x="709" y="81" width="1" height="32" fill="#000"/>
<rect x="708" y="103" width="3" height="4" fill="#000"/>
<rect x="709" y="104" width="1" height="2" fill="#ff0080"/>
<rect x="714" y="84" width="1" height="44" fill="#000"/>
<rect x="713" y="106" width="3" height="14" fill="#000"/>
<rect x="714" y="107" width="1" height="12" fill="#ff0080"/>
<rect x="720" y="109" width="1" height="69" fill="#000"/>
<rect x="719" y="119" width="3" height="28" fill="#000"/>
<rect x="720" y="120" width="1" height="26" fill="#ff0080"/>
<rect x="726" y="139" width="1" height="134" fill="#000"/>
<rect x="725" y="147" width="3" height="74" fill="#000"/>
<rect x="726" y="148" width="1" height="72" fill="#ff0080"/>
<rect x="731" y="209" width="1" height="112" fill="#000"/>
<rect x="730" y="220" width="3" height="50" fill="#000"/>
<rect x="731" y="221" width="1" height="48" fill="#ff0080"/>
<rect x="737" y="225" width="1" height="44" fill="#000"/>
<rect x="736" y="263" width="3" height="6" fill="#000"/>
<rect x="737" y="264" width="1" height="4" fill="#33bb22"/>
<rect x="743" y="207" width="1" height="46" fill="#000"/>
<rect x="742" y="209" width="3" height="44" fill="#000"/>
<rect x="743" y="210" width="1" height="42" fill="#33bb22"/>
<rect x="748" y="199" width="1" height="31" fill="#000"/>
<rect x="747" y="209" width="3" height="9" fill="#000"/>
<rect x="748" y="210" width="1" height="7" fill="#ff0080"/>
<rect x="754" y="203" width="1" height="42" fill="#000"/>
<rect x="753" y="204" width="3" height="14" fill="#000"/>
<rect x="754" y="205" width="1" height="12" fill="#33bb22"/>
<rect x="759" y="190" width="1" height="31" fill="#000"/>
<rect x="758" y="204" width="3" height="10" fill="#000"/>
<rect x="759" y="205" width="1" height="8" fill="#ff0080"/>
<rect x="765" y="204" width="1" height="39" fill="#000"/>
<rect x="764" y="213" width="3" height="18" fill="#000"/>
<rect x="765" y="214" width="1" height="16" fill="#ff0080"/>
<rect x="771" y="227" width="1" height="23" fill="#000"/>
<rect x="770" y="230" width="3" height="1" fill="#000"/>
<rect x="776" y="202" width="1" height="26" fill="#000"/>
<rect x="775" y="210" width="3" height="14" fill="#000"/>
<rect x="776" y="211" width="1" height="12" fill="#33bb22"/>
<rect x="782" y="196" width="1" height="30" fill="#000"/>
<rect x="781" y="210" width="3" height="16" fill="#000"/>
<rect x="782" y="211" width="1" height="14" fill="#ff0080"/>
<rect x="788" y="206" width="1" height="37" fill="#000"/>
<rect x="787" y="218" width="3" height="8" fill="#000"/>
<rect x="788" y="219" width="1" height="6" fill="#33bb22"/>
<rect x="793" y="211" width="1" height="57" fill="#000"/>
<rect x="792" y="218" width="3" height="28" fill="#000"/>
<rect x="793" y="219" width="1" height="26" fill="#ff0080"/>
<rect x="799" y="237" width="1" height="47" fill="#000"/>
<rect x="798" y="245" width="3" height="35" fill="#000"/>
<rect x="799" y="246" width="1" height="33" fill="#ff0080"/>
<rect x="805" y="259" width="1" height="28" fill="#000"/>
<rect x="804" y="267" width="3" height="13" fill="#000"/>
<rect x="805" y="268" width="1" height="11" fill="#33bb22"/>
<rect x="810" y="228" width="1" height="49" fill="#000"/>
<rect x="809" y="234" width="3" height="29" fill="#000"/>
<rect x="810" y="235" width="1" height="27" fill="#33bb22"/>
<rect x="816" y="230" width="1" height="17" fill="#000"/>
<rect x="815" y="234" width="3" height="12" fill="#000"/>
<rect x="816" y="235" width="1" height="10" fill="#ff0080"/>
<rect x="821" y="241" width="1" height="25" fill="#000"/>
<rect x="820" y="245" width="3" height="21" fill="#000"/>
<rect x="821" y="246" width="1" height="19" fill="#ff0080"/>
<rect x="827" y="236" width="1" height="43" fill="#000"/>
<rect x="826" y="265" width="3" height="1" fill="#000"/>
<rect x="833" y="211" width="1" height="57" fill="#000"/>
<rect x="832" y="230" width="3" height="36" fill="#000"/>
<rect x="833" y="231" width="1" height="34" fill="#33bb22"/>
<rect x="838" y="208" width="1" height="24" fill="#000"/>
<rect x="837" y="211" width="3" height="20" fill="#000"/>
<rect x="838" y="212" width="1" height="18" fill="#33bb22"/>
<rect x="844" y="211" width="1" height="89" fill="#000"/>
<rect x="843" y="211" width="3" height="77" fill="#000"/>
<rect x="844" y="212" width="1" height="75" fill="#ff0080"/>
<rect x="850" y="254" width="1" height="55" fill="#000"/>
<rect x="849" y="262" width="3" height="26" fill="#000"/>
<rect x="850" y="263" width="1" height="24" fill="#33bb22"/>
<rect x="855" y="230" width="1" height="38" fill="#000"/>
<rect x="854" y="258" width="3" height="5" fill="#000"/>
<rect x="855" y="259" width="1" height="3" fill="#33bb22"/>
<rect x="861" y="235" width="1" height="33" fill="#000"/>
<rect x="860" y="258" width="3" height="2" fill="#000"/>
<rect x="866" y="246" width="1" height="34" fill="#000"/>
<rect x="865" y="253" width="3" height="7" fill="#000"/>
<rect x="866" y="254" width="1" height="5" fill="#33bb22"/>
<rect x="872" y="226" width="1" height="37" fill="#000"/>
<rect x="871" y="232" width="3" height="22" fill="#000"/>
<rect x="872" y="233" width="1" height="20" fill="#33bb22"/>
<rect x="878" y="221" width="1" height="24" fill="#000"/>
<rect x="877" y="236" width="3" height="3" fill="#000"/>
<rect x="878" y="237" width="1" height="1" fill="#33bb22"/>
<rect x="883" y="202" width="1" height="38" fill="#000"/>
<rect x="882" y="216" width="3" height="21" fill="#000"/>
<rect x="883" y="217" width="1" height="19" fill="#33bb22"/>
<rect x="889" y="196" width="1" height="23" fill="#000"/>
<rect x="888" y="204" width="3" height="13" fill="#000"/>
<rect x="889" y="205" width="1" height="11" fill="#33bb22"/>
<rect x="895" y="198" width="1" height="23" fill="#000"/>
<rect x="894" y="202" width="3" height="3" fill="#000"/>
<rect x="895" y="203" width="1" height="1" fill="#33bb22"/>
<rect x="900" y="171" width="1" height="32" fill="#000"/>
<rect x="899" y="177" width="3" height="26" fill="#000"/>
<rect x="900" y="178" width="1" height="24" fill="#33bb22"/>
<rect x="906" y="172" width="1" height="46" fill="#000"/>
<rect x="905" y="177" width="3" height="22" fill="#000"/>
<rect x="906" y="178" width="1" height="20" fill="#ff0080"/>
<rect x="912" y="181" width="1" height="23" fill="#000"/>
<rect x="911" y="184" width="3" height="15" fill="#000"/>
<rect x="912" y="185" width="1" height="13" fill="#33bb22"/>
<rect x="917" y="179" width="1" height="18" fill="#000"/>
<rect x="916" y="184" width="3" height="8" fill="#000"/>
<rect x="917" y="185" width="1" height="6" fill="#ff0080"/>
<rect x="923" y="187" width="1" height="20" fill="#000"/>
<rect x="922" y="191" width="3" height="11" fill="#000"/>
<rect x="923" y="192" width="1" height="9" fill="#ff0080"/>
<rect x="928" y="195" width="1" height="20" fill="#000"/>
<rect x="927" y="201" width="3" height="14" fill="#000"/>
<rect x="928" y="202" width="1" height="12" fill="#ff0080"/>
<rect x="934" y="196" width="1" height="29" fill="#000"/>
<rect x="933" y="209" width="3" height="6" fill="#000"/>
<rect x="934" y="210" width="1" height="4" fill="#33bb22"/>
<rect x="940" y="204" width="1" height="17" fill="#000"/>
<rect x="939" y="208" width="3" height="1" fill="#000"/>
<rect x="945" y="207" width="1" height="33" fill="#000"/>
<rect x="944" y="207" width="3" height="17" fill="#000"/>
<rect x="945" y="208" width="1" height="15" fill="#ff0080"/>
<rect x="951" y="209" width="1" height="22" fill="#000"/>
<rect x="950" y="223" width="3" height="7" fill="#000"/>
<rect x="951" y="224" width="1" height="5" fill="#ff0080"/>
<rect x="957" y="200" width="1" height="33" fill="#000"/>
<rect x="956" y="207" width="3" height="23" fill="#000"/>
<rect x="957" y="208" width="1" height="21" fill="#33bb22"/>
<rect x="962" y="199" width="1" height="16" fill="#000"/>
<rect x="961" y="205" width="3" height="3" fill="#000"/>
<rect x="962" y="206" width="1" height="1" fill="#33bb22"/>
<rect x="968" y="202" width="1" height="48" fill="#000"/>
<rect x="967" y="205" width="3" height="37" fill="#000"/>
<rect x="968" y="206" width="1" height="35" fill="#ff0080"/>
<rect x="974" y="237" width="1" height="46" fill="#000"/>
<rect x="973" y="241" width="3" height="29" fill="#000"/>
<rect x="974" y="242" width="1" height="27" fill="#ff0080"/>
<rect x="979" y="246" width="1" height="24" fill="#000"/>
<rect x="978" y="247" width="3" height="20" fill="#000"/>
<rect x="979" y="248" width="1" height="18" fill="#33bb22"/>
<rect x="985" y="238" width="1" height="17" fill="#000"/>
<rect x="984" y="247" width="3" height="7" fill="#000"/>
<rect x="985" y="248" width="1" height="5" fill="#ff0080"/>
<rect x="990" y="249" width="1" height="31" fill="#000"/>
<rect x="989" y="253" width="3" height="12" fill="#000"/>
<rect x="990" y="254" width="1" height="10" fill="#ff0080"/>
<rect x="996" y="243" width="1" height="25" fill="#000"/>
<rect x="995" y="244" width="3" height="21" fill="#000"/>
<rect x="996" y="245" width="1" height="19" fill="#33bb22"/>
<rect x="1002" y="243" width="1" height="63" fill="#000"/>
<rect x="1001" y="244" width="3" height="47" fill="#000"/>
<rect x="1002" y="245" width="1" height="45" fill="#ff0080"/>
<rect x="1007" y="278" width="1" height="34" fill="#000"/>
<rect x="1006" y="290" width="3" height="16" fill="#000"/>
<rect x="1007" y="291" width="1" height="14" fill="#ff0080"/>
<rect x="1013" y="299" width="1" height="39" fill="#000"/>
<rect x="1012" y="302" width="3" height="8" fill="#000"/>
<rect x="1013" y="303" width="1" height="6" fill="#33bb22"/>
<rect x="1019" y="302" width="1" height="27" fill="#000"/>
<rect x="1018" y="302" width="3" height="9" fill="#000"/>
<rect x="1019" y="303" width="1" height="7" fill="#ff0080"/>
<rect x="1024" y="296" width="1" height="32" fill="#000"/>
<rect x="1023" y="310" width="3" height="15" fill="#000"/>
<rect x="1024" y="311" width="1" height="13" fill="#ff0080"/>
<rect x="1030" y="302" width="1" height="35" fill="#000"/>
<rect x="1029" y="306" width="3" height="19" fill="#000"/>
<rect x="1030" y="307" width="1" height="17" fill="#33bb22"/>
<rect x="1035" y="294" width="1" height="40" fill="#000"/>
<rect x="1034" y="306" width="3" height="19" fill="#000"/>
<rect x="1035" y="307" width="1" height="17" fill="#ff0080"/>
<rect x="1041" y="305" width="1" height="23" fill="#000"/>
<rect x="1040" y="314" width="3" height="11" fill="#000"/>
<rect x="1041" y="315" width="1" height="9" fill="#33bb22"/>
<rect x="1047" y="308" width="1" height="11" fill="#000"/>
<rect x="1046" y="311" width="3" height="6" fill="#000"/>
<rect x="1047" y="312" width="1" height="4" fill="#ff0080"/>
<rect x="1052" y="292" width="1" height="29" fill="#000"/>
<rect x="1051" y="295" width="3" height="22" fill="#000"/>
<rect x="1052" y="296" width="1" height="20" fill="#33bb22"/>
<rect x="1058" y="290" width="1" height="25" fill="#000"/>
<rect x="1057" y="295" width="3" height="9" fill="#000"/>
<rect x="1058" y="296" width="1" height="7" fill="#ff0080"/>
<rect x="1064" y="302" width="1" height="21" fill="#000"/>
<rect x="1063" y="303" width="3" height="9" fill="#000"/>
<rect x="1064" y="304" width="1" height="7" fill="#ff0080"/>
<rect x="1069" y="299" width="1" height="36" fill="#000"/>
<rect x="1068" y="311" width="3" height="7" fill="#000"/>
<rect x="1069" y="312" width="1" height="5" fill="#ff0080"/>
<rect x="1075" y="313" width="1" height="7" fill="#000"/>
<rect x="1074" y="315" width="3" height="3" fill="#000"/>
<rect x="1075" y="316" width="1" height="1" fill="#33bb22"/>
<rect x="1081" y="311" width="1" height="11" fill="#000"/>
<rect x="1080" y="316" width="3" height="2" fill="#000"/>
<rect x="1086" y="308" width="1" height="22" fill="#000"/>
<rect x="1085" y="316" width="3" height="11" fill="#000"/>
<rect x="1086" y="317" width="1" height="9" fill="#ff0080"/>
<rect x="1092" y="308" width="1" height="24" fill="#000"/>
<rect x="1091" y="326" width="3" height="1" fill="#000"/>
<rect x="1097" y="321" width="1" height="76" fill="#000"/>
<rect x="1096" y="326" width="3" height="67" fill="#000"/>
<rect x="1097" y="327" width="1" height="65" fill="#ff0080"/>
<rect x="1103" y="384" width="1" height="38" fill="#000"/>
<rect x="1102" y="389" width="3" height="4" fill="#000"/>
<rect x="1103" y="390" width="1" height="2" fill="#33bb22"/>
<rect x="1109" y="381" width="1" height="58" fill="#000"/>
<rect x="1108" y="389" width="3" height="44" fill="#000"/>
<rect x="1109" y="390" width="1" height="42" fill="#ff0080"/>
<rect x="1114" y="413" width="1" height="27" fill="#000"/>
<rect x="1113" y="417" width="3" height="12" fill="#000"/>
<rect x="1114" y="418" width="1" height="10" fill="#33bb22"/>
<rect x="1120" y="401" width="1" height="21" fill="#000"/>
<rect x="1119" y="412" width="3" height="6" fill="#000"/>
<rect x="1120" y="413" width="1" height="4" fill="#33bb22"/>
<rect x="1126" y="409" width="1" height="105" fill="#000"/>
<rect x="1125" y="412" width="3" height="88" fill="#000"/>
<rect x="1126" y="413" width="1" height="86" fill="#ff0080"/>
<rect x="1131" y="489" width="1" height="122" fill="#000"/>
<rect x="1130" y="499" width="3" height="86" fill="#000"/>
<rect x="1131" y="500" width="1" height="84" fill="#ff0080"/>
<rect x="1137" y="537" width="1" height="91" fill="#000"/>
<rect x="1136" y="577" width="3" height="8" fill="#000"/>
<rect x="1137" y="578" width="1" height="6" fill="#33bb22"/>
<rect x="1143" y="528" width="1" height="56" fill="#000"/>
<rect x="1142" y="536" width="3" height="42" fill="#000"/>
<rect x="1143" y="537" width="1" height="40" fill="#33bb22"/>
<rect x="1148" y="520" width="1" height="26" fill="#000"/>
<rect x="1147" y="530" width="3" height="8" fill="#000"/>
<rect x="1148" y="531" width="1" height="6" fill="#ff0080"/>
<rect x="1154" y="506" width="1" height="37" fill="#000"/>
<rect x="1153" y="510" width="3" height="28" fill="#000"/>
<rect x="1154" y="511" width="1" height="26" fill="#33bb22"/>
</g>
<rect x="0" y="2" width="16" height="702" fill="#fff"/>
<rect x="15" y="1" width="1461" height="704.5" fill="none" stroke="#f3f3f3" stroke-width="2"/>
<rect x="16" y="658" width="1459" height="1" fill="#555"/>
<rect x="1353" y="2" width="1" height="703" fill="#555"/>
<rect x="1359.1" y="7.0" width="109.6" height="37.8" rx="5.8" fill="#fff" stroke="#efefef" stroke-width="1.4"/>
<text x="1372.87" y="31.6" font-family="Liberation Sans, sans-serif" font-size="16.5" letter-spacing="-1.667" fill="#111" stroke="#111" stroke-width="0.15">USD</text>
<text x="1368.75" y="75.0" font-family="Liberation Sans, sans-serif" font-size="20.7" letter-spacing="-0.016" fill="#4c4c4c" stroke="#4c4c4c" stroke-width="0.25">5,400.000</text>
<text x="1368.75" y="137.3" font-family="Liberation Sans, sans-serif" font-size="20.7" letter-spacing="-0.016" fill="#4c4c4c" stroke="#4c4c4c" stroke-width="0.25">5,300.000</text>
<text x="1368.75" y="199.7" font-family="Liberation Sans, sans-serif" font-size="20.7" letter-spacing="-0.016" fill="#4c4c4c" stroke="#4c4c4c" stroke-width="0.25">5,200.000</text>
<text x="1368.75" y="262.0" font-family="Liberation Sans, sans-serif" font-size="20.7" letter-spacing="-0.016" fill="#4c4c4c" stroke="#4c4c4c" stroke-width="0.25">5,100.000</text>
<text x="1368.75" y="324.3" font-family="Liberation Sans, sans-serif" font-size="20.7" letter-spacing="-0.016" fill="#4c4c4c" stroke="#4c4c4c" stroke-width="0.25">5,000.000</text>
<text x="1369.08" y="386.6" font-family="Liberation Sans, sans-serif" font-size="20.7" letter-spacing="-0.056" fill="#4c4c4c" stroke="#4c4c4c" stroke-width="0.25">4,900.000</text>
<text x="1369.08" y="449.0" font-family="Liberation Sans, sans-serif" font-size="20.7" letter-spacing="-0.056" fill="#4c4c4c" stroke="#4c4c4c" stroke-width="0.25">4,800.000</text>
<text x="1369.08" y="573.6" font-family="Liberation Sans, sans-serif" font-size="20.7" letter-spacing="-0.056" fill="#4c4c4c" stroke="#4c4c4c" stroke-width="0.25">4,600.000</text>
<text x="1369.08" y="636.0" font-family="Liberation Sans, sans-serif" font-size="20.7" letter-spacing="-0.056" fill="#4c4c4c" stroke="#4c4c4c" stroke-width="0.25">4,500.000</text>
<path d="M1354,495 H1465.5 Q1469,495 1469,498.5 V522 Q1469,525.5 1465.5,525.5 H1354 Z" fill="#33bb22"/>
<text x="1368.70" y="517.6" font-family="Liberation Sans, sans-serif" font-size="20.7" font-weight="bold" letter-spacing="0.006" fill="#fff">4,692.740</text>
<text x="111.7" y="688.6" text-anchor="middle" font-family="Liberation Sans, sans-serif" font-size="19.7" fill="#4c4c4c">5</text>
<text x="213.3" y="688.6" text-anchor="middle" font-family="Liberation Sans, sans-serif" font-size="19.7" fill="#4c4c4c">10</text>
<text x="314.2" y="688.6" text-anchor="middle" font-family="Liberation Sans, sans-serif" font-size="19.7" fill="#4c4c4c">13</text>
<text x="416" y="688.6" text-anchor="middle" font-family="Liberation Sans, sans-serif" font-size="19.7" fill="#4c4c4c">18</text>
<text x="506" y="688.6" text-anchor="middle" font-family="Liberation Sans, sans-serif" font-size="19.7" fill="#4c4c4c">22</text>
<text x="674.4" y="688.6" text-anchor="middle" font-family="Liberation Sans, sans-serif" font-size="19.7" font-weight="bold" fill="#4c4c4c">Mar</text>
<text x="787.1" y="688.6" text-anchor="middle" font-family="Liberation Sans, sans-serif" font-size="19.7" fill="#4c4c4c">5</text>
<text x="889.2" y="688.6" text-anchor="middle" font-family="Liberation Sans, sans-serif" font-size="19.7" fill="#4c4c4c">10</text>
<text x="990.3" y="688.6" text-anchor="middle" font-family="Liberation Sans, sans-serif" font-size="19.7" fill="#4c4c4c">13</text>
<text x="1091.9" y="688.6" text-anchor="middle" font-family="Liberation Sans, sans-serif" font-size="19.7" fill="#4c4c4c">18</text>
<text x="1182" y="688.6" text-anchor="middle" font-family="Liberation Sans, sans-serif" font-size="19.7" fill="#4c4c4c">22</text>
<text x="1294.2" y="688.6" text-anchor="middle" font-family="Liberation Sans, sans-serif" font-size="19.7" fill="#4c4c4c">26</text>
<text x="25.52" y="30.7" font-family="Liberation Sans, sans-serif" font-size="23" letter-spacing="0.562" fill="#0a0a0a" stroke="#0a0a0a" stroke-width="0.3">Gold</text>
<text x="83.72" y="30.7" font-family="Liberation Sans, sans-serif" font-size="23" letter-spacing="-0.177" fill="#0a0a0a" stroke="#0a0a0a" stroke-width="0.3">(XAU/USD):</text>
<text x="214.04" y="30.7" font-family="Liberation Sans, sans-serif" font-size="23" letter-spacing="0.497" fill="#0a0a0a" stroke="#0a0a0a" stroke-width="0.3">4-hour</text>
<path d="M18.05,739.1 H35.9 V761.4 H27.06 V747.9 H18.05 Z" fill="#131313"/>
<circle cx="43.4" cy="743.45" r="4.4" fill="#131313"/>
<path d="M52.25,739.1 H62.7 L54.1,761.4 H43.96 Z" fill="#131313"/>
<text x="73.40" y="761.4" font-family="Liberation Sans, sans-serif" font-size="30.5" font-weight="bold" letter-spacing="0.190" fill="#131313">TradingView</text>
</svg>
</body></html>
